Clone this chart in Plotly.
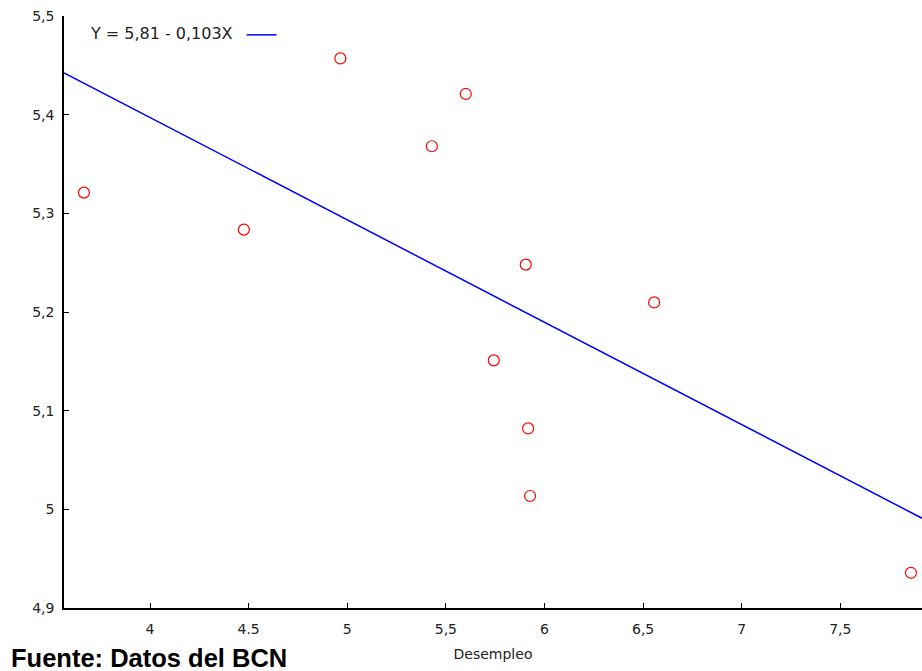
import plotly.graph_objects as go

# Data
desempleo = [3.665, 4.476, 4.965, 5.429, 5.601, 5.905, 5.743, 5.917, 5.927, 6.556, 7.858]
valor = [5.321, 5.2835, 5.457, 5.368, 5.421, 5.248, 5.151, 5.082, 5.0135, 5.2097, 4.9357]

# Regression line end points
line_x = [3.564, 7.914]
line_y = [5.4424, 4.991]

x_tickvals = [4, 4.5, 5, 5.5, 6, 6.5, 7, 7.5]
x_ticktext = ["4", "4.5", "5", "5,5", "6", "6,5", "7", "7,5"]
y_tickvals = [4.9, 5.0, 5.1, 5.2, 5.3, 5.4, 5.5]
y_ticktext = ["4,9", "5", "5,1", "5,2", "5,3", "5,4", "5,5"]

legend_label = "Y = 5,81 - 0,103X"
x_title = "Desempleo"
source_text = "Fuente: Datos del BCN"

fig = go.Figure()
fig.add_trace(go.Scatter(
    x=line_x, y=line_y, mode="lines",
    line=dict(color="#0000ff", width=1.5),
    name="", showlegend=True,
))
fig.add_trace(go.Scatter(
    x=desempleo, y=valor, mode="markers",
    marker=dict(symbol="circle-open", size=11, color="#ff0000", line=dict(width=1.2, color="#ff0000")),
    showlegend=False,
))

font_main = "DejaVu Sans, Verdana, sans-serif"

fig.update_layout(
    width=922, height=671,
    margin=dict(l=64, r=0, t=16, b=63),
    paper_bgcolor="white", plot_bgcolor="white",
    font=dict(family=font_main, size=14, color="#222222"),
    showlegend=True,
    legend=dict(
        orientation="h",
        x=0.029, y=0.968, xanchor="left", yanchor="middle",
        bgcolor="rgba(0,0,0,0)",
        title=dict(text=legend_label, side="left", font=dict(size=16, family=font_main, color="#222222")),
        font=dict(size=16, family=font_main),
        itemwidth=30,
    ),
    xaxis=dict(
        range=[3.564, 7.914],
        tickvals=x_tickvals, ticktext=x_ticktext,
        showgrid=False, zeroline=False,
        showline=True, linecolor="black", linewidth=1.5,
        ticks="inside", ticklen=5, tickcolor="black", tickwidth=1,
        tickfont=dict(size=14, family=font_main, color="#222222"),
        ticklabelstandoff=7,
        title=dict(text=x_title, font=dict(size=14, family=font_main, color="#222222"), standoff=14),
    ),
    yaxis=dict(
        range=[4.9, 5.5],
        tickvals=y_tickvals, ticktext=y_ticktext,
        showgrid=False, zeroline=False,
        showline=True, linecolor="black", linewidth=1.5,
        ticks="inside", ticklen=5, tickcolor="black", tickwidth=1,
        tickfont=dict(size=14, family=font_main, color="#222222"),
        ticklabelstandoff=5,
    ),
    annotations=[dict(
        text="<b>" + source_text + "</b>",
        xref="paper", yref="paper", x=-64/858 + 9/858, y=-(657.5-608)/592,
        xanchor="left", yanchor="middle", showarrow=False,
        font=dict(family="Liberation Sans, Arial, sans-serif", size=25.5, color="black"),
    )],
)

fig.write_html("out.html", config={"displayModeBar": False},
               post_script="document.body.style.margin='0';document.body.style.overflow='hidden';")
